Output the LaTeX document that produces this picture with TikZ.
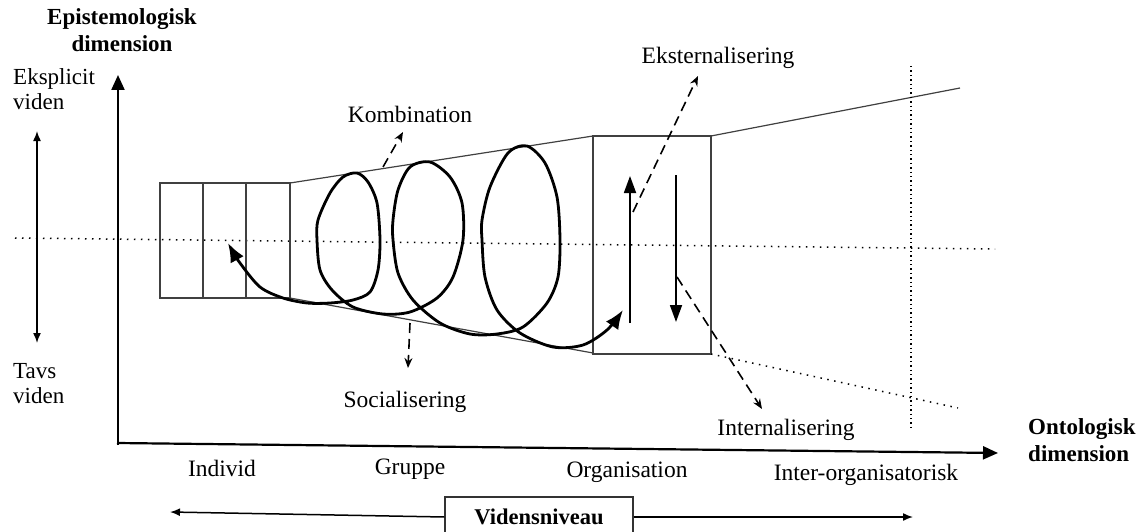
\documentclass[tikz,border=0pt]{standalone}
\usepackage{fontspec}
\setmainfont{Liberation Serif}
\usetikzlibrary{arrows.meta}
\begin{document}
\begin{tikzpicture}[x=1pt,y=-1pt,
  lbl/.style={font=\fontsize{23.5}{26}\selectfont, inner sep=0pt},
  side/.style={font=\fontsize{23}{25}\selectfont, align=left, inner sep=0pt, anchor=west},
  blbl/.style={font=\fontsize{23}{27}\selectfont\bfseries, align=center, inner sep=0pt},
  axis/.style={line width=2.2pt, -{Triangle[length=15pt,width=13pt]}},
  frame/.style={line width=1.2pt, draw=black!75},
  dots/.style={line width=1.5pt, dash pattern=on 1.5pt off 5.5pt},
  densedots/.style={line width=1.4pt, dash pattern=on 1.4pt off 3pt},
  spiral/.style={line width=2.8pt, {Latex[length=19pt,width=15pt]}-{Latex[length=19pt,width=15pt]}},
  flow/.style={line width=1.8pt, -{Triangle[length=17pt,width=12pt]}},
  dashedarrow/.style={line width=1.6pt, dash pattern=on 10pt off 6pt, -{Stealth[length=10pt,width=8pt]}},
  span/.style={line width=1.5pt, {Latex[length=10pt,width=8pt]}-{Latex[length=10pt,width=8pt]}},
  halfspan/.style={line width=1.5pt, -{Latex[length=10pt,width=8pt]}}
]
\useasboundingbox (0,0) rectangle (1142,532);

% axes
\coordinate (O) at (118,445);
\coordinate (ytip) at (118,75);
\coordinate (xstart) at (117,443);
\coordinate (xtip) at (998,453);
\draw[axis] (O) -- (ytip);
\draw[axis] (xstart) -- (xtip);

% axis titles
\node[blbl] (epi) at (122,30) {Epistemologisk\\dimension};
\node[blbl, align=left, anchor=west] (onto) at (1028,440) {Ontologisk\\dimension};

% epistemological scale on the left
\node[side] (ekspl) at (13,89) {Eksplicit\\viden};
\node[side] (tavs) at (13,384) {Tavs\\viden};
\coordinate (scaletop) at (37,131);
\coordinate (scalebot) at (37,343);
\draw[span] (scaletop) -- (scalebot);

% dotted middle line
\coordinate (midL) at (15,238);
\coordinate (midR) at (995,249);
\draw[dots] (midL) -- (midR);

% individual level: three slices
\draw[frame] (160,183) rectangle (290,298);
\draw[frame] (203,183) -- (203,298);
\draw[frame] (246,183) -- (246,298);

% group level: widening funnel
\draw[frame] (290,183) -- (593,136);
\draw[frame] (290,298) -- (593,353);

% organisation level
\draw[frame] (593,136) rectangle (711,354);

% inter-organisational level
\draw[frame] (711,136) -- (960,88);
\draw[dots] (711,354) -- (958,408);
\draw[densedots] (911,66) -- (911,428);

% knowledge spiral
\draw[spiral] plot[smooth, tension=0.5] coordinates {
  (228,243) (240,263) (260,287) (283,298) (307,303) (330,303) (353,300)
  (370,292) (378,270) (380,240) (377,203) (368,182) (357,173) (343,177)
  (330,193) (318,220) (317,240) (320,270) (332,290) (353,307) (383,314)
  (410,312) (437,298) (453,277) (463,240) (462,203) (450,177) (430,162)
  (410,167) (398,190) (393,220) (393,240) (398,273) (413,300) (440,323)
  (470,334) (497,334) (523,327) (547,303) (558,277) (560,240) (557,197)
  (545,163) (527,146) (508,153) (490,187) (482,220) (482,240) (485,277)
  (497,310) (520,333) (553,347) (583,345) (607,330) (623,310)};

% up and down flows in the organisation
\coordinate (upS) at (630,323);
\coordinate (upE) at (630,176);
\coordinate (dnS) at (676,175);
\coordinate (dnE) at (676,322);
\draw[flow] (upS) -- (upE);
\draw[flow] (dnS) -- (dnE);

% conversion labels with dashed pointers
\node[lbl] (komb) at (410,114) {Kombination};
\node[lbl] (soc) at (405,402) {Socialisering};
\node[lbl] (ekst) at (718,58) {Eksternalisering};
\node[lbl] (intl) at (786,430) {Internalisering};

\coordinate (kombS) at (383,167);
\coordinate (kombE) at (403,132);
\coordinate (socS) at (410,323);
\coordinate (socE) at (408,368);
\coordinate (ekstS) at (633,212);
\coordinate (ekstE) at (698,76);
\coordinate (intlS) at (677,277);
\coordinate (intlE) at (762,409);
\draw[dashedarrow] (kombS) -- (kombE);
\draw[dashedarrow] (socS) -- (socE);
\draw[dashedarrow] (ekstS) -- (ekstE);
\draw[dashedarrow] (intlS) -- (intlE);

% ontological levels
\node[lbl] (ind) at (222,468) {Individ};
\node[lbl] (grp) at (410,469) {Gruppe};
\node[lbl] (org) at (627,472) {Organisation};
\node[lbl] (inter) at (866,475) {Inter-organisatorisk};

% knowledge level box with its range arrow
\node[draw, line width=1.2pt, draw=black!80, minimum width=188pt, minimum height=40pt,
      font=\fontsize{22.5}{24}\selectfont\bfseries] (niveau) at (539,517) {Vidensniveau};
\coordinate (nivL) at (170,512);
\coordinate (nivR) at (913,517);
\draw[halfspan] (niveau.west) -- (nivL);
\draw[halfspan] (niveau.east) -- (nivR);
\end{tikzpicture}
\end{document}
